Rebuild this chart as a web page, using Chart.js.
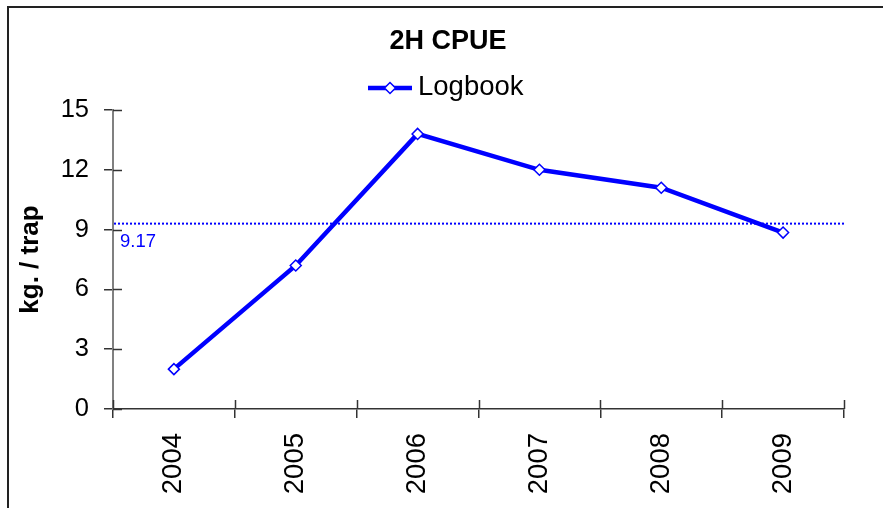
<!DOCTYPE html>
<html>
<head>
<meta charset="utf-8">
<script src="https://cdn.jsdelivr.net/npm/chart.js@4/dist/chart.umd.min.js"></script>
<style>
  html, body { margin: 0; padding: 0; background: #ffffff; }
  #wrap { position: relative; width: 883px; height: 508px; }
</style>
</head>
<body>
<div id="wrap"><canvas id="c" width="883" height="508"></canvas></div>
<script>
// ---- data ----
const chartTitle = '2H CPUE';
const seriesName = 'Logbook';
const yAxisTitle = 'kg. / trap';
const categories = ['2004', '2005', '2006', '2007', '2008', '2009'];
const cpue = [2.0, 7.2, 13.8, 12.0, 11.1, 8.85];
const meanLineValue = 9.3;
const meanLabel = '9.17';
const yMin = 0;
const yMax = 15;
const yStep = 3;

const FONT = "'Liberation Sans', Arial, sans-serif";
const BLUE = '#0000FF';

const decorPlugin = {
  id: 'decor',
  beforeDatasetsDraw(chart) {
    const { ctx, chartArea } = chart;
    const y = chart.scales.y;
    const py = y.getPixelForValue(meanLineValue);
    ctx.save();
    ctx.strokeStyle = BLUE;
    ctx.lineWidth = 2;
    ctx.setLineDash([2, 2]);
    ctx.beginPath();
    ctx.moveTo(chartArea.left + 1, py);
    ctx.lineTo(chartArea.right + 1, py);
    ctx.stroke();
    ctx.setLineDash([]);
    ctx.fillStyle = BLUE;
    ctx.font = '18.5px ' + FONT;
    ctx.textAlign = 'left';
    ctx.textBaseline = 'middle';
    ctx.fillText(meanLabel, chartArea.left + 7, py + 18.5);
    ctx.restore();
  },
  afterDraw(chart) {
    const { ctx, chartArea } = chart;
    const ys = chart.scales.y;
    ctx.save();
    // inner tick marks (ticks cross the axes)
    ctx.strokeStyle = '#333333';
    ctx.lineWidth = 1.5;
    ys.ticks.forEach((t) => {
      const py = Math.round(ys.getPixelForValue(t.value)) + 0.5;
      ctx.beginPath();
      ctx.moveTo(chartArea.left, py);
      ctx.lineTo(chartArea.left + 9, py);
      ctx.stroke();
    });
    const n = categories.length;
    const w = (chartArea.right - chartArea.left) / n;
    for (let i = 0; i <= n; i++) {
      const px = Math.round(chartArea.left + i * w) + 0.5;
      ctx.beginPath();
      ctx.moveTo(px, chartArea.bottom - 9);
      ctx.lineTo(px, chartArea.bottom);
      ctx.stroke();
    }
    // frame (top and left edges)
    ctx.strokeStyle = '#222222';
    ctx.lineWidth = 2;
    ctx.beginPath();
    ctx.moveTo(8, chart.height);
    ctx.lineTo(8, 7);
    ctx.lineTo(chart.width, 7);
    ctx.stroke();
    // title
    ctx.fillStyle = '#000000';
    ctx.font = 'bold 27px ' + FONT;
    ctx.textAlign = 'center';
    ctx.textBaseline = 'middle';
    ctx.fillText(chartTitle, 448, 42);
    // legend
    ctx.strokeStyle = BLUE;
    ctx.lineWidth = 4.5;
    ctx.beginPath();
    ctx.moveTo(368, 88);
    ctx.lineTo(412, 88);
    ctx.stroke();
    ctx.fillStyle = '#ffffff';
    ctx.lineWidth = 1.5;
    ctx.beginPath();
    ctx.moveTo(390, 82.5);
    ctx.lineTo(395.5, 88);
    ctx.lineTo(390, 93.5);
    ctx.lineTo(384.5, 88);
    ctx.closePath();
    ctx.fill();
    ctx.stroke();
    ctx.fillStyle = '#000000';
    ctx.font = '27.5px ' + FONT;
    ctx.textAlign = 'left';
    ctx.textBaseline = 'middle';
    ctx.fillText(seriesName, 418, 87);
    ctx.restore();
  }
};

new Chart(document.getElementById('c'), {
  type: 'line',
  data: {
    labels: categories,
    datasets: [{
      label: seriesName,
      data: cpue,
      borderColor: BLUE,
      borderWidth: 4.5,
      backgroundColor: '#ffffff',
      pointStyle: 'rectRot',
      pointRadius: 5.5,
      pointHoverRadius: 5.5,
      pointBorderColor: BLUE,
      pointBackgroundColor: '#ffffff',
      pointBorderWidth: 1.5,
      tension: 0,
      fill: false
    }]
  },
  options: {
    responsive: false,
    animation: false,
    events: [],
    layout: { padding: { top: 110, right: 39, left: 0, bottom: 0 } },
    plugins: {
      legend: { display: false },
      title: { display: false },
      tooltip: { enabled: false }
    },
    scales: {
      x: {
        type: 'category',
        offset: true,
        grid: { display: true, offset: true, drawOnChartArea: false, drawTicks: true, tickLength: 9, color: '#333333', lineWidth: 1.5 },
        border: { display: true, color: '#333333', width: 1.5 },
        ticks: {
          color: '#000000',
          font: { family: FONT, size: 27.5 },
          minRotation: 90,
          maxRotation: 90,
          padding: 15,
          autoSkip: false
        },
        afterFit(scale) { scale.height = 99; }
      },
      y: {
        min: yMin,
        max: yMax,
        grid: { display: true, drawOnChartArea: false, drawTicks: true, tickLength: 9, color: '#333333', lineWidth: 1.5 },
        border: { display: true, color: '#808080', width: 2 },
        ticks: {
          stepSize: yStep,
          color: '#000000',
          font: { family: FONT, size: 25.5 },
          padding: 15
        },
        title: {
          display: true,
          text: yAxisTitle,
          color: '#000000',
          font: { family: FONT, size: 26, weight: 'bold' },
          padding: { top: 15, bottom: 0 }
        },
        afterFit(scale) { scale.width = 113; }
      }
    }
  },
  plugins: [decorPlugin]
});
</script>
</body>
</html>
